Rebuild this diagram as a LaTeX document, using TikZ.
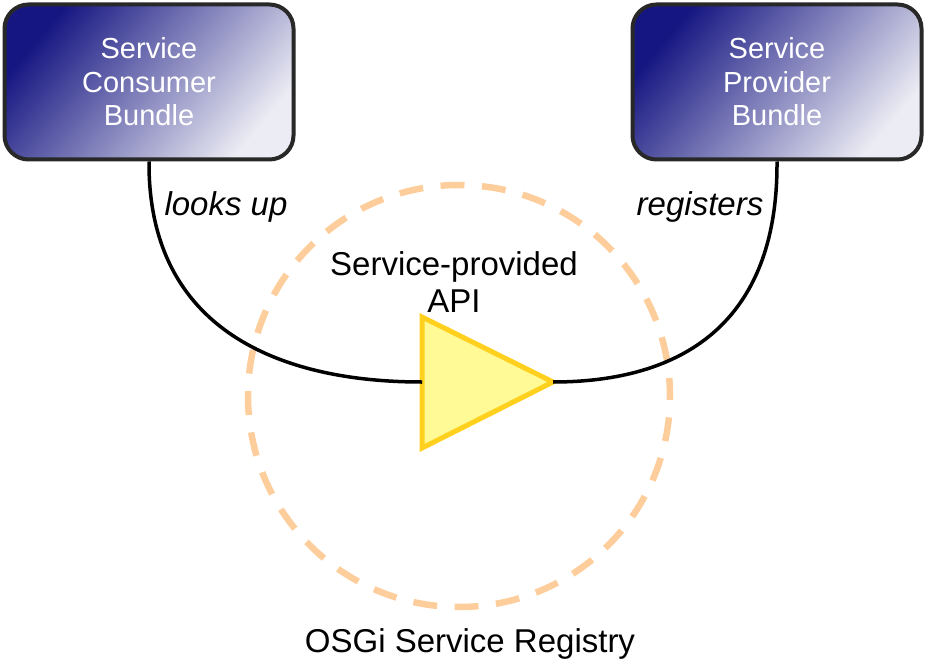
\documentclass[tikz,border=0pt]{standalone}
\usepackage{fontspec}
\setmainfont{Liberation Sans}
\definecolor{navydark}{RGB}{22,22,130}
\definecolor{navylight}{RGB}{236,236,244}
\definecolor{boxborder}{RGB}{40,40,40}
\definecolor{regcircle}{RGB}{253,206,156}
\definecolor{apifill}{RGB}{255,250,150}
\definecolor{apidraw}{RGB}{255,208,30}
\begin{document}
\begin{tikzpicture}[x=1pt,y=-1pt,
  bundle/.style={draw=boxborder, line width=4pt, rounded corners=24pt,
    top color=navydark, bottom color=navylight, shading angle=50,
    minimum width=289pt, minimum height=155pt, inner sep=0pt,
    text=white, align=center, font=\fontsize{29}{33.5}\selectfont},
  wire/.style={line width=3.5pt, black},
  lbl/.style={font=\fontsize{33}{37}\selectfont\itshape, inner sep=0pt, anchor=base},
  txt/.style={font=\fontsize{33}{37}\selectfont, inner sep=0pt, align=center, anchor=base},
  registry/.style={regcircle, line width=6.5pt, dash pattern=on 24pt off 17.5pt, dash phase=6pt},
  apishape/.style={draw=apidraw, fill=apifill, line width=5pt, line join=miter}
]
\useasboundingbox (0,0) rectangle (929,666);
% registry circle
\node[registry, draw, circle, minimum size=422pt, inner sep=0pt] (registry) at (459,396) {};
% bundles
\node[bundle] (consumer) at (149,82) {Service\\Consumer\\Bundle};
\node[bundle] (provider) at (777,82) {Service\\Provider\\Bundle};
% API triangle
\coordinate (apiL) at (422,382);
\coordinate (apiR) at (553,382);
\coordinate (apiT) at (422,317);
\coordinate (apiB) at (422,448);
\draw[apishape] (apiT) -- (apiR) -- (apiB) -- cycle;
% connectors
\draw[wire] (consumer.south) .. controls (148,330) and (280,382) .. (apiL);
\draw[wire] (apiR) .. controls (680,382) and (778,325) .. (provider.south);
% labels
\node[lbl] (looks) at (226,215) {looks up};
\node[lbl] (regs) at (700,215) {registers};
\node[txt] (apitext) at (454,312) {Service-provided\\API};
\node[txt] (regtext) at (470,652) {OSGi Service Registry};
\end{tikzpicture}
\end{document}
